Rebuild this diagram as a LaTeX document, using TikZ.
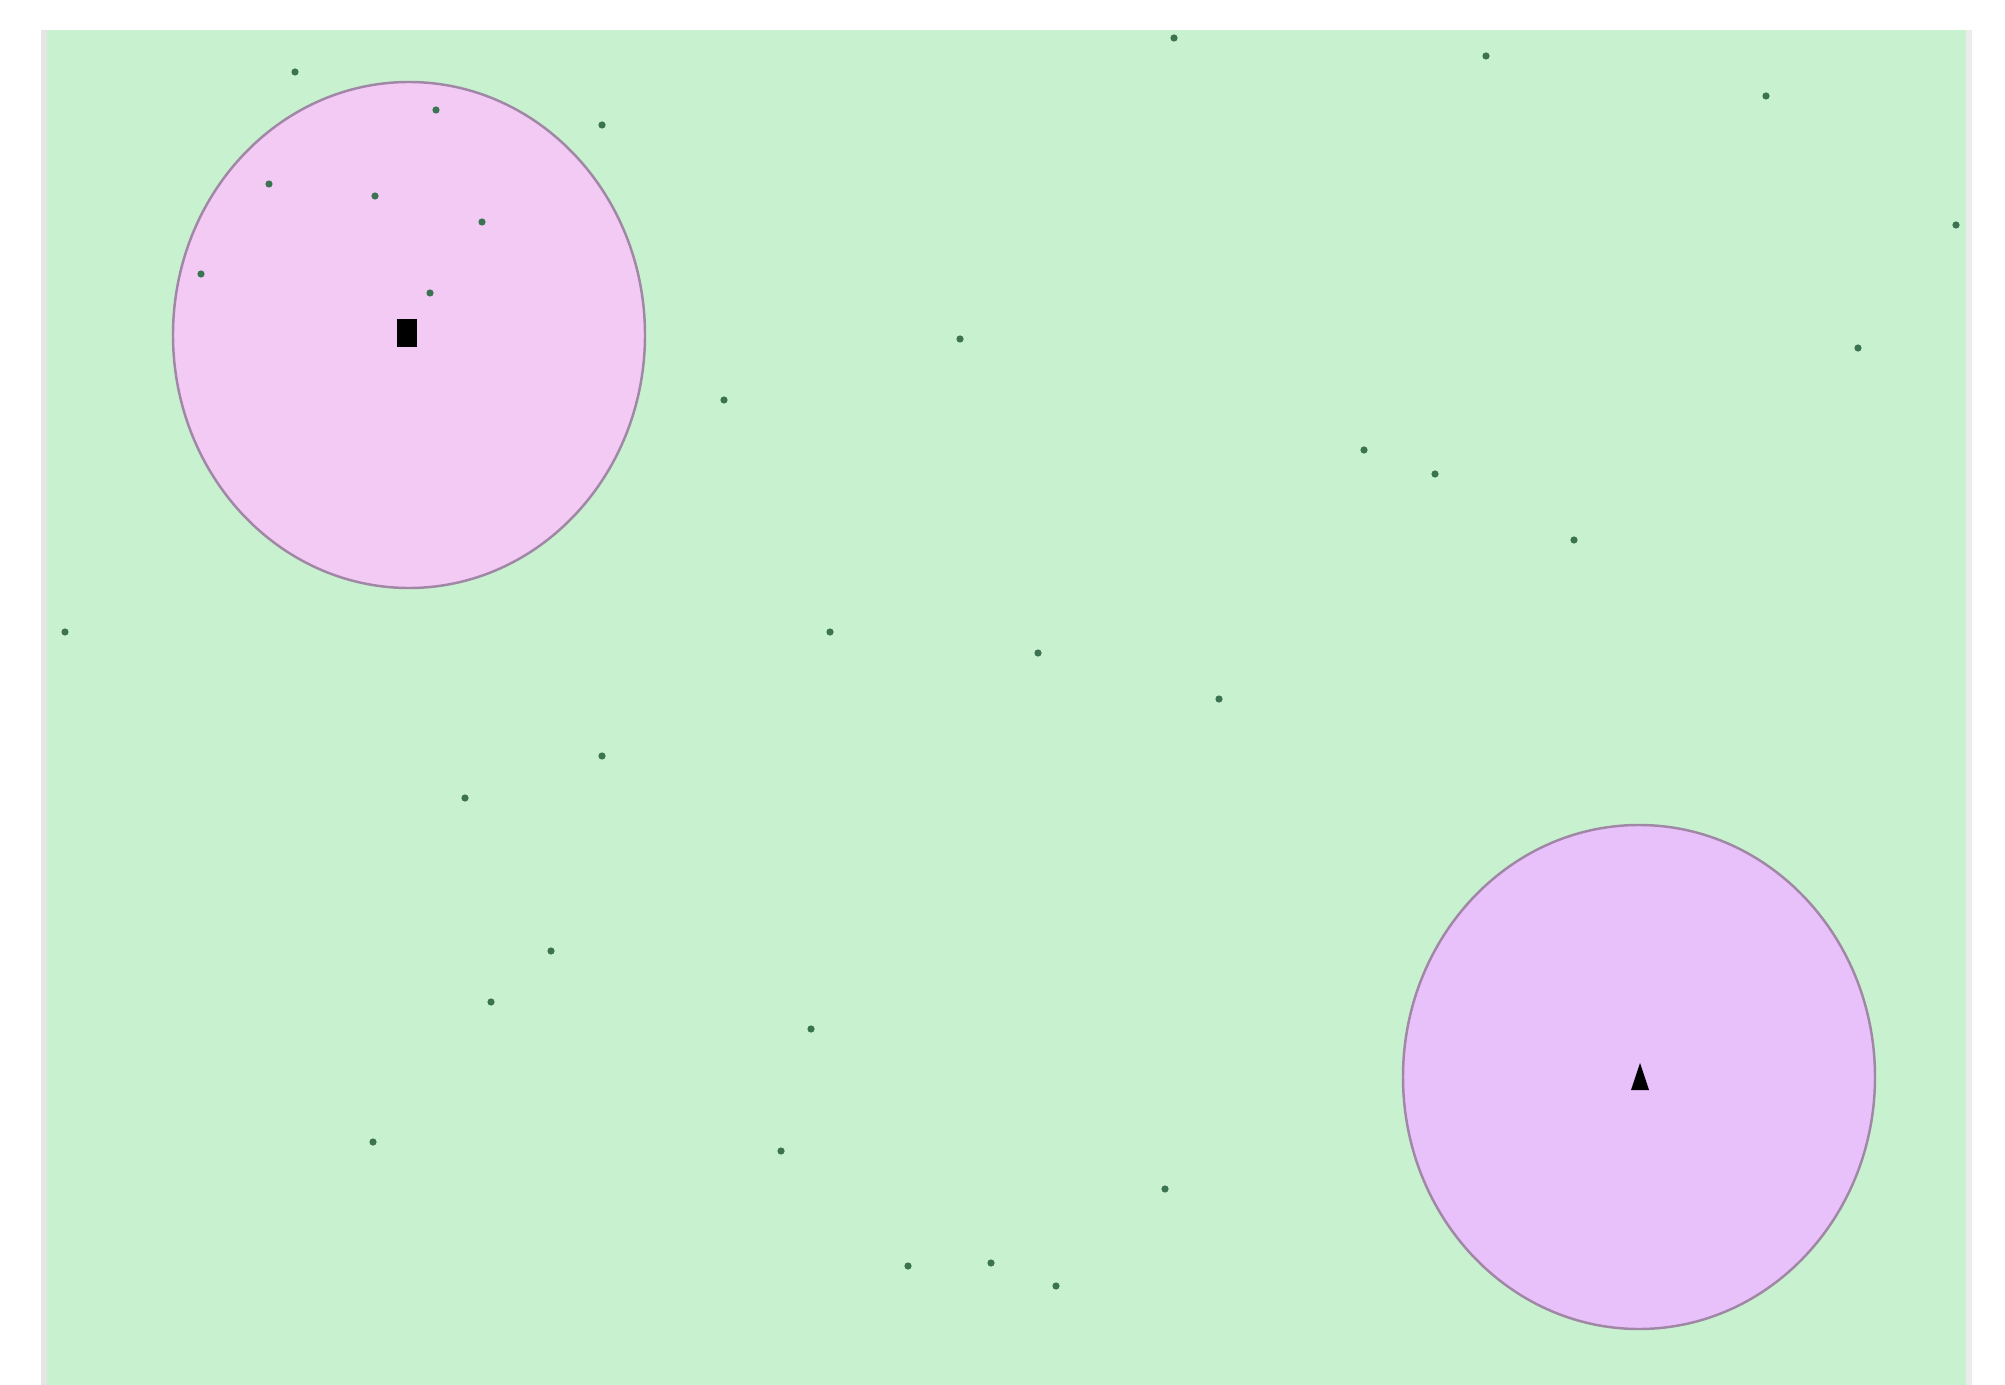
\documentclass[tikz,border=0pt]{standalone}
\usepackage{tikz}
\usetikzlibrary{positioning}
\definecolor{cfield}{RGB}{200,241,207}
\definecolor{czoneA}{RGB}{242,202,244}
\definecolor{czoneB}{RGB}{232,193,250}
\definecolor{cedge}{RGB}{160,135,165}
\definecolor{cdot}{RGB}{60,115,80}
\tikzset{
  zone/.style={draw=cedge, line width=0.7pt},
  site/.style={fill=cdot},
}

\begin{document}
\begin{tikzpicture}[x=0.01cm, y=-0.01cm]
  \useasboundingbox (0,0) rectangle (2005,1385);
  % field
  \fill[cfield] (44,30) rectangle (1969,1385);
  \draw[gray!20, line width=1.5pt] (44,30) -- (44,1385);
  \draw[gray!15, line width=1.5pt] (1969,30) -- (1969,1385);
  % coverage zones
  \filldraw[zone, fill=czoneA] (409,335) ellipse [x radius=236, y radius=253];
  \filldraw[zone, fill=czoneB] (1639,1077) ellipse [x radius=236, y radius=252];
  % sites
  \foreach \px/\py in {295/72, 436/110, 602/125, 1174/38, 1486/56, 1766/96,
      269/184, 375/196, 482/222, 201/274, 430/293, 1956/225, 960/339,
      1858/348, 724/400, 1364/450, 1435/474, 1574/540, 65/632, 830/632,
      1038/653, 1219/699, 602/756, 465/798, 551/951, 491/1002, 811/1029,
      373/1142, 781/1151, 1165/1189, 908/1266, 991/1263, 1056/1286}
    \fill[site] (\px,\py) circle [radius=3.6];
  % depot and target
  \node[fill=black, inner sep=0pt, minimum width=0.19cm, minimum height=0.27cm] (depot) at (407,333) {};
  \fill[black] (1631,1090) -- (1640,1063) -- (1649,1090) -- cycle;
\end{tikzpicture}
\end{document}
